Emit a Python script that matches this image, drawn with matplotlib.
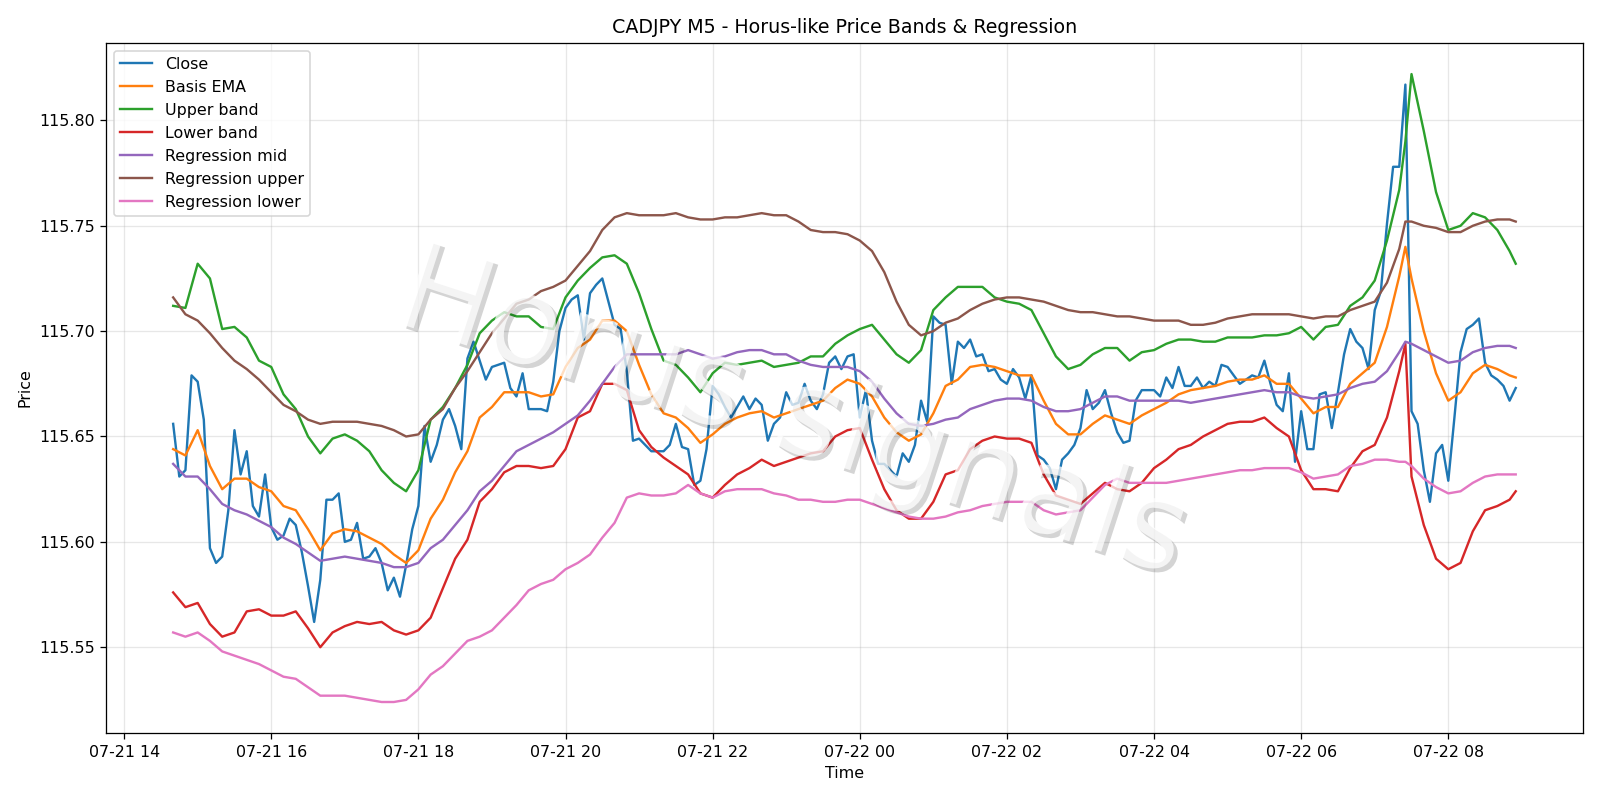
import numpy as np
import pandas as pd
import matplotlib
matplotlib.use('Agg')
import matplotlib.pyplot as plt
import matplotlib.patheffects as pe

# CADJPY M5 closes, 5 min bars, 07-21 14:40 -> 07-22 08:55 (one row per hour)
close = [
    115.656, 115.631, 115.634, 115.679,
    115.676, 115.658, 115.597, 115.590, 115.593, 115.615, 115.653, 115.632, 115.643, 115.617, 115.612, 115.632,
    115.607, 115.601, 115.603, 115.611, 115.608, 115.595, 115.579, 115.562, 115.582, 115.620, 115.620, 115.623,
    115.600, 115.601, 115.609, 115.592, 115.593, 115.597, 115.590, 115.577, 115.583, 115.574, 115.589, 115.606,
    115.617, 115.655, 115.638, 115.646, 115.658, 115.663, 115.655, 115.644, 115.687, 115.695, 115.686, 115.677,
    115.683, 115.684, 115.685, 115.673, 115.669, 115.680, 115.663, 115.663, 115.663, 115.662, 115.676, 115.700,
    115.711, 115.715, 115.717, 115.696, 115.718, 115.722, 115.725, 115.714, 115.703, 115.701, 115.681, 115.648,
    115.649, 115.646, 115.643, 115.643, 115.643, 115.646, 115.656, 115.645, 115.644, 115.627, 115.629, 115.644,
    115.674, 115.670, 115.664, 115.659, 115.664, 115.669, 115.663, 115.668, 115.665, 115.648, 115.656, 115.659,
    115.671, 115.665, 115.666, 115.675, 115.667, 115.663, 115.670, 115.685, 115.688, 115.682, 115.688, 115.689,
    115.659, 115.672, 115.648, 115.637, 115.637, 115.634, 115.631, 115.642, 115.638, 115.646, 115.667, 115.657,
    115.707, 115.704, 115.703, 115.675, 115.695, 115.692, 115.696, 115.688, 115.689, 115.681, 115.682, 115.677,
    115.675, 115.682, 115.678, 115.668, 115.679, 115.641, 115.639, 115.635, 115.625, 115.639, 115.642, 115.646,
    115.654, 115.672, 115.663, 115.666, 115.672, 115.661, 115.652, 115.647, 115.648, 115.667, 115.672, 115.672,
    115.672, 115.669, 115.678, 115.673, 115.683, 115.674, 115.674, 115.678, 115.673, 115.676, 115.674, 115.684,
    115.683, 115.679, 115.675, 115.677, 115.679, 115.678, 115.686, 115.675, 115.665, 115.662, 115.680, 115.638,
    115.662, 115.644, 115.644, 115.670, 115.671, 115.654, 115.671, 115.689, 115.701, 115.695, 115.692, 115.682,
    115.710, 115.719, 115.751, 115.778, 115.778, 115.817, 115.662, 115.656, 115.634, 115.619, 115.642, 115.646,
    115.629, 115.659, 115.690, 115.701, 115.703, 115.706, 115.685, 115.679, 115.677, 115.674, 115.667, 115.673,
]

# band / regression lines read every 10 min (+07:25 spike bar and last bar 08:55)
basis = [
    115.644, 115.641,
    115.653, 115.636, 115.625, 115.630, 115.630, 115.626,
    115.624, 115.617, 115.615, 115.606, 115.596, 115.604,
    115.606, 115.605, 115.602, 115.599, 115.594, 115.590,
    115.596, 115.611, 115.620, 115.633, 115.643, 115.659,
    115.664, 115.671, 115.671, 115.671, 115.669, 115.670,
    115.683, 115.692, 115.696, 115.705, 115.705, 115.700,
    115.684, 115.670, 115.661, 115.659, 115.654, 115.647,
    115.651, 115.656, 115.659, 115.661, 115.662, 115.659,
    115.661, 115.663, 115.665, 115.667, 115.673, 115.677,
    115.675, 115.669, 115.659, 115.652, 115.648, 115.651,
    115.661, 115.674, 115.677, 115.683, 115.684, 115.683,
    115.681, 115.679, 115.679, 115.667, 115.656, 115.651,
    115.651, 115.656, 115.660, 115.658, 115.656, 115.660,
    115.663, 115.666, 115.670, 115.672, 115.673, 115.674,
    115.676, 115.677, 115.677, 115.679, 115.675, 115.675,
    115.668, 115.661, 115.664, 115.664, 115.675, 115.680,
    115.685, 115.702, 115.726, 115.740, 115.725, 115.700, 115.680,
    115.667, 115.671, 115.680, 115.684, 115.682, 115.679, 115.678,
]

upper = [
    115.712, 115.711,
    115.732, 115.725, 115.701, 115.702, 115.697, 115.686,
    115.683, 115.670, 115.663, 115.650, 115.642, 115.649,
    115.651, 115.648, 115.643, 115.634, 115.628, 115.624,
    115.634, 115.658, 115.664, 115.673, 115.684, 115.699,
    115.705, 115.709, 115.707, 115.707, 115.702, 115.701,
    115.716, 115.724, 115.730, 115.735, 115.736, 115.732,
    115.718, 115.701, 115.686, 115.684, 115.678, 115.671,
    115.680, 115.685, 115.684, 115.685, 115.686, 115.683,
    115.684, 115.685, 115.688, 115.688, 115.694, 115.698,
    115.701, 115.703, 115.696, 115.689, 115.685, 115.691,
    115.710, 115.716, 115.721, 115.721, 115.721, 115.716,
    115.714, 115.713, 115.710, 115.699, 115.688, 115.682,
    115.684, 115.689, 115.692, 115.692, 115.686, 115.690,
    115.691, 115.694, 115.696, 115.696, 115.695, 115.695,
    115.697, 115.697, 115.697, 115.698, 115.698, 115.699,
    115.702, 115.696, 115.702, 115.703, 115.712, 115.716,
    115.724, 115.743, 115.767, 115.790, 115.822, 115.795, 115.766,
    115.748, 115.750, 115.756, 115.754, 115.748, 115.738, 115.732,
]

lower = [
    115.576, 115.569,
    115.571, 115.561, 115.555, 115.557, 115.567, 115.568,
    115.565, 115.565, 115.567, 115.559, 115.550, 115.557,
    115.560, 115.562, 115.561, 115.562, 115.558, 115.556,
    115.558, 115.564, 115.578, 115.592, 115.601, 115.619,
    115.625, 115.633, 115.636, 115.636, 115.635, 115.636,
    115.644, 115.659, 115.662, 115.675, 115.675, 115.672,
    115.653, 115.645, 115.640, 115.636, 115.632, 115.623,
    115.621, 115.627, 115.632, 115.635, 115.639, 115.636,
    115.638, 115.640, 115.642, 115.643, 115.650, 115.653,
    115.654, 115.639, 115.625, 115.615, 115.611, 115.611,
    115.619, 115.632, 115.634, 115.644, 115.648, 115.650,
    115.649, 115.649, 115.647, 115.632, 115.622, 115.620,
    115.618, 115.623, 115.628, 115.625, 115.624, 115.628,
    115.635, 115.639, 115.644, 115.646, 115.650, 115.653,
    115.656, 115.657, 115.657, 115.659, 115.654, 115.650,
    115.634, 115.625, 115.625, 115.624, 115.635, 115.643,
    115.646, 115.659, 115.681, 115.694, 115.631, 115.608, 115.592,
    115.587, 115.590, 115.605, 115.615, 115.617, 115.620, 115.624,
]

reg_mid = [
    115.637, 115.631,
    115.631, 115.625, 115.618, 115.615, 115.613, 115.610,
    115.607, 115.602, 115.599, 115.595, 115.591, 115.592,
    115.593, 115.592, 115.591, 115.590, 115.588, 115.588,
    115.590, 115.597, 115.601, 115.608, 115.615, 115.624,
    115.629, 115.636, 115.643, 115.646, 115.649, 115.652,
    115.656, 115.660, 115.667, 115.675, 115.683, 115.689,
    115.689, 115.689, 115.689, 115.689, 115.691, 115.689,
    115.687, 115.688, 115.690, 115.691, 115.691, 115.689,
    115.689, 115.686, 115.684, 115.683, 115.683, 115.683,
    115.681, 115.676, 115.668, 115.661, 115.656, 115.655,
    115.656, 115.658, 115.659, 115.663, 115.665, 115.667,
    115.668, 115.668, 115.667, 115.664, 115.662, 115.662,
    115.663, 115.666, 115.669, 115.669, 115.667, 115.667,
    115.667, 115.667, 115.667, 115.666, 115.667, 115.668,
    115.669, 115.670, 115.671, 115.672, 115.671, 115.671,
    115.669, 115.668, 115.669, 115.670, 115.673, 115.675,
    115.676, 115.681, 115.690, 115.695, 115.694, 115.691, 115.688,
    115.685, 115.686, 115.690, 115.692, 115.693, 115.693, 115.692,
]

reg_upper = [
    115.716, 115.708,
    115.705, 115.699, 115.692, 115.686, 115.682, 115.677,
    115.671, 115.665, 115.662, 115.658, 115.656, 115.657,
    115.657, 115.657, 115.656, 115.655, 115.653, 115.650,
    115.651, 115.658, 115.663, 115.673, 115.681, 115.690,
    115.699, 115.706, 115.713, 115.715, 115.719, 115.721,
    115.724, 115.731, 115.738, 115.748, 115.754, 115.756,
    115.755, 115.755, 115.755, 115.756, 115.754, 115.753,
    115.753, 115.754, 115.754, 115.755, 115.756, 115.755,
    115.755, 115.752, 115.748, 115.747, 115.747, 115.746,
    115.743, 115.738, 115.728, 115.714, 115.703, 115.698,
    115.700, 115.704, 115.706, 115.710, 115.713, 115.715,
    115.716, 115.716, 115.715, 115.714, 115.712, 115.710,
    115.709, 115.709, 115.708, 115.707, 115.707, 115.706,
    115.705, 115.705, 115.705, 115.703, 115.703, 115.704,
    115.706, 115.707, 115.708, 115.708, 115.708, 115.708,
    115.707, 115.706, 115.707, 115.707, 115.710, 115.712,
    115.714, 115.723, 115.739, 115.752, 115.752, 115.750, 115.749,
    115.747, 115.747, 115.750, 115.752, 115.753, 115.753, 115.752,
]

reg_lower = [
    115.557, 115.555,
    115.557, 115.553, 115.548, 115.546, 115.544, 115.542,
    115.539, 115.536, 115.535, 115.531, 115.527, 115.527,
    115.527, 115.526, 115.525, 115.524, 115.524, 115.525,
    115.530, 115.537, 115.541, 115.547, 115.553, 115.555,
    115.558, 115.564, 115.570, 115.577, 115.580, 115.582,
    115.587, 115.590, 115.594, 115.602, 115.609, 115.621,
    115.623, 115.622, 115.622, 115.623, 115.627, 115.623,
    115.621, 115.624, 115.625, 115.625, 115.625, 115.623,
    115.622, 115.620, 115.620, 115.619, 115.619, 115.620,
    115.620, 115.618, 115.616, 115.614, 115.612, 115.611,
    115.611, 115.612, 115.614, 115.615, 115.617, 115.618,
    115.619, 115.619, 115.619, 115.615, 115.613, 115.614,
    115.615, 115.621, 115.627, 115.630, 115.628, 115.628,
    115.628, 115.628, 115.629, 115.630, 115.631, 115.632,
    115.633, 115.634, 115.634, 115.635, 115.635, 115.635,
    115.633, 115.630, 115.631, 115.632, 115.636, 115.637,
    115.639, 115.639, 115.638, 115.638, 115.636, 115.630, 115.626,
    115.623, 115.624, 115.628, 115.631, 115.632, 115.632, 115.632,
]

t_close = pd.date_range('2025-07-21 14:40', '2025-07-22 08:55', freq='5min')
t_band = (pd.date_range('2025-07-21 14:40', '2025-07-22 07:20', freq='10min')
          .append(pd.DatetimeIndex(['2025-07-22 07:25']))
          .append(pd.date_range('2025-07-22 07:30', '2025-07-22 08:50', freq='10min'))
          .append(pd.DatetimeIndex(['2025-07-22 08:55'])))

fig, ax = plt.subplots(figsize=(14, 7))

ax.plot(t_close, close, label='Close')
ax.plot(t_band, basis, label='Basis EMA')
ax.plot(t_band, upper, label='Upper band')
ax.plot(t_band, lower, label='Lower band')
ax.plot(t_band, reg_mid, label='Regression mid')
ax.plot(t_band, reg_upper, label='Regression upper')
ax.plot(t_band, reg_lower, label='Regression lower')

ax.set_title('CADJPY M5 - Horus-like Price Bands & Regression')
ax.set_xlabel('Time')
ax.set_ylabel('Price')
ax.grid(True, alpha=0.3)
ax.legend(loc='upper left')

# watermark on top of everything
fig.text(0.495, 0.48, 'Horus signals', fontsize=77, color='white', alpha=0.75,
         rotation=-18, ha='center', va='center',
         path_effects=[pe.withSimplePatchShadow(offset=(2.5, -2.5), shadow_rgbFace='black', alpha=0.17)])

plt.tight_layout()
fig.savefig('out.png', dpi=1600 / 14)
